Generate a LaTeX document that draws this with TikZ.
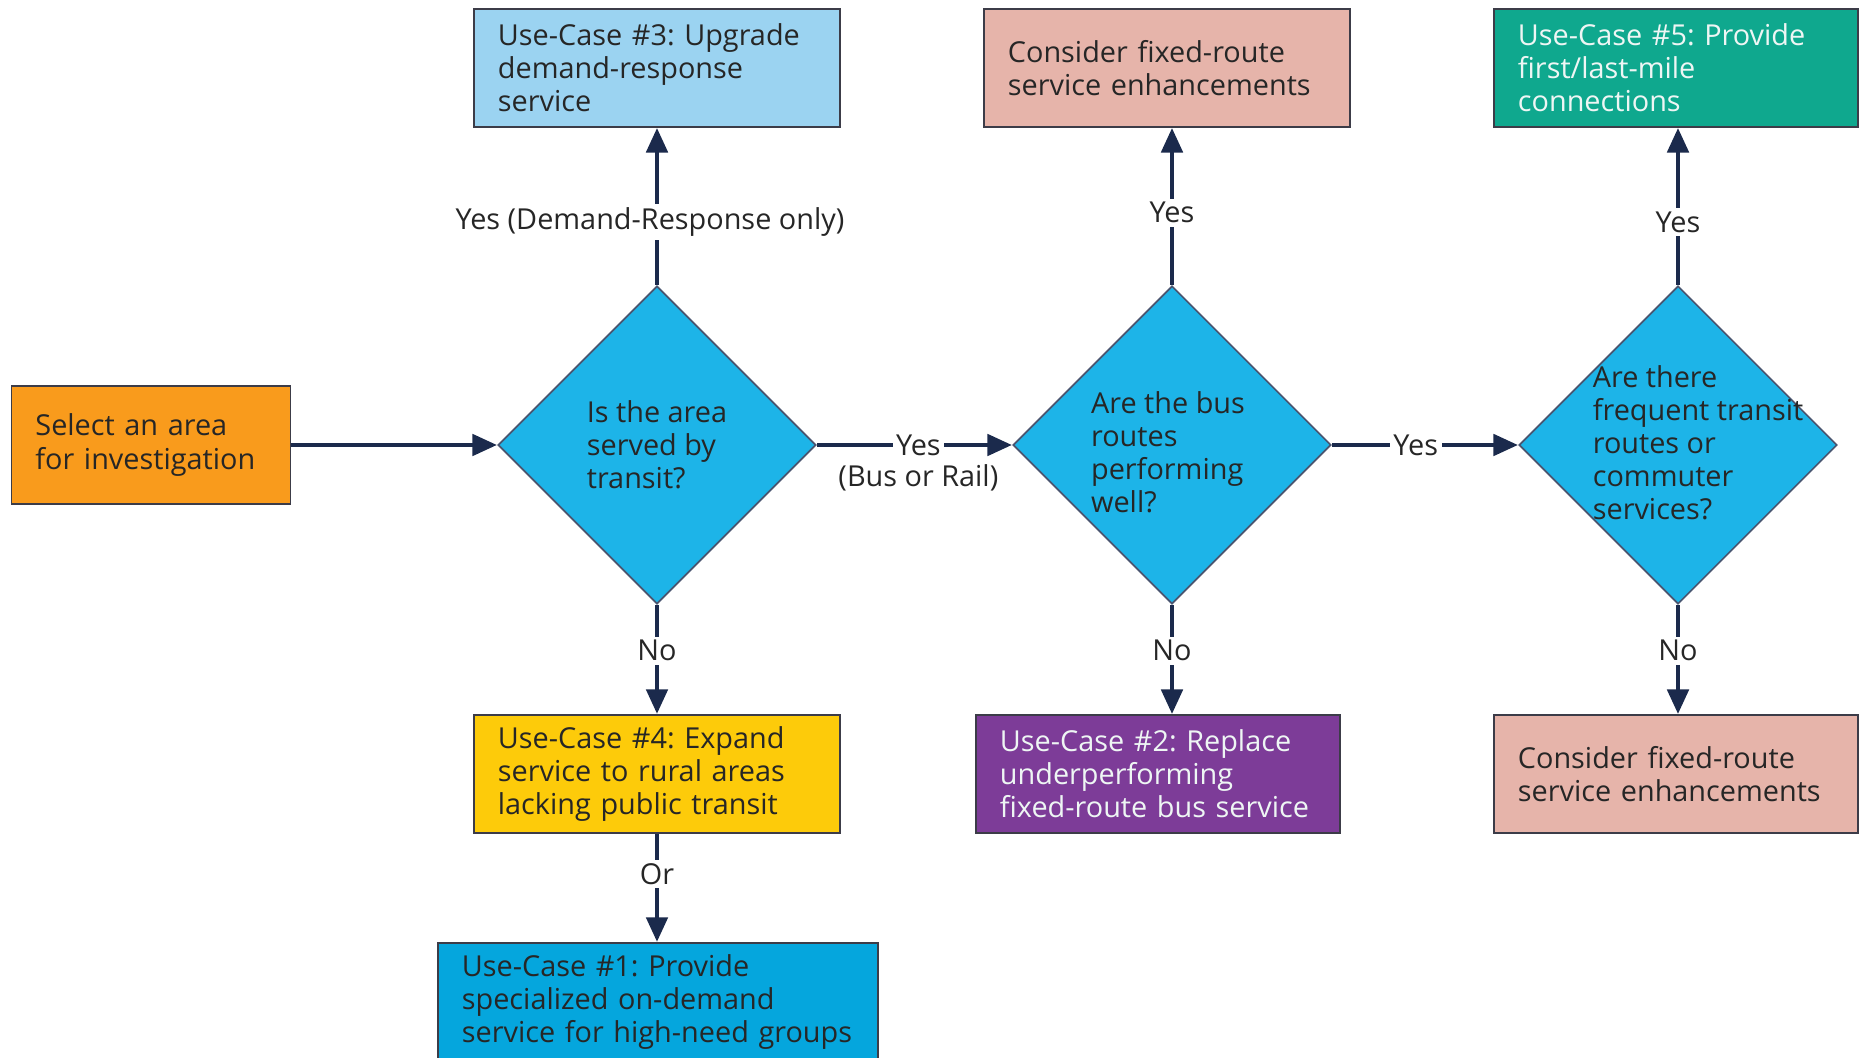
\documentclass[tikz,border=0pt]{standalone}
\usepackage{fontspec}
\setmainfont{Open Sans}
\usepackage{xcolor}
\usepackage{tikz}
\usetikzlibrary{arrows.meta,positioning,calc,shapes.geometric}
\frenchspacing

\definecolor{areaorange}{HTML}{F99B1C}
\definecolor{caselight}{HTML}{9BD3F1}
\definecolor{casepink}{HTML}{E6B4AA}
\definecolor{caseteal}{HTML}{0FA88E}
\definecolor{caseyellow}{HTML}{FDCB0A}
\definecolor{casepurple}{HTML}{7D3C98}
\definecolor{caseblue}{HTML}{05A6DD}
\definecolor{askblue}{HTML}{1DB4E8}
\definecolor{flownavy}{HTML}{1B2A4C}
\definecolor{edgegray}{HTML}{3C3C48}
\definecolor{inkdark}{HTML}{262626}
\definecolor{inklight}{HTML}{EEF6F4}

\begin{document}
\begin{tikzpicture}[x=0.01cm, y=-0.01cm,
    font=\fontsize{8.2}{9.4}\selectfont,
    casebox/.style={draw=edgegray, line width=0.5pt, rectangle, minimum height=1.18cm,
        inner xsep=0.24cm, text width=#1, align=left, text=inkdark},
    ask/.style={diamond, draw=flownavy!80, line width=0.5pt, fill=askblue,
        minimum width=3.18cm, minimum height=3.18cm, inner sep=0pt},
    asktext/.style={align=left, text=inkdark, inner sep=0pt},
    flow/.style={draw=flownavy, line width=1.3pt, -{Triangle[length=7pt,width=6pt]}},
    lbl/.style={fill=white, inner sep=1pt, text=inkdark}]

    \useasboundingbox (0,0) rectangle (1860,1058);

    % start
    \node[casebox=2.31cm, fill=areaorange] (area) at (151,445) {Select an area\\for investigation};

    % decisions
    \node[ask] (served) at (657,445) {};
    \node[asktext] (servedq) at (served.center) {Is the area\\served by\\transit?};
    \node[ask] (perform) at (1172,445) {};
    \node[asktext] (performq) at ($(perform.center)+(-4,7)$) {Are the bus\\routes\\performing\\well?};
    \node[ask] (frequent) at (1678,445) {};
    \node[asktext] (frequentq) at ($(frequent.center)+(20,-2)$) {Are there\\frequent transit\\routes or\\commuter\\services?};

    % top row
    \node[casebox=3.18cm, fill=caselight] (upgrade) at (657,68) {Use-Case \#3: Upgrade\\demand-response\\service};
    \node[casebox=3.18cm, fill=casepink] (enhanceA) at (1167,68) {Consider fixed-route\\service enhancements};
    \node[casebox=3.16cm, fill=caseteal, text=inklight] (lastmile) at (1676,68) {Use-Case \#5: Provide\\first/last-mile\\connections};

    % bottom rows
    \node[casebox=3.18cm, fill=caseyellow] (rural) at (657,774) {Use-Case \#4: Expand\\service to rural areas\\lacking public transit};
    \node[casebox=3.16cm, fill=casepurple, text=inklight] (replace) at (1158,774) {Use-Case \#2: Replace\\underperforming\\fixed-route bus service};
    \node[casebox=3.16cm, fill=casepink] (enhanceB) at (1676,774) {Consider fixed-route\\service enhancements};
    \node[casebox=3.92cm, fill=caseblue] (special) at (658,1002) {Use-Case \#1: Provide\\specialized on-demand\\service for high-need groups};

    % connectors
    \draw[flow] (area) -- (served);
    \draw[flow] (served) -- node[lbl, pos=0.52] (yesbus) {Yes} (perform);
    \node[inner sep=1pt, text=inkdark] (busrail) at ($(yesbus)+(0,33)$) {(Bus or Rail)};
    \draw[flow] (perform) -- node[lbl, pos=0.45] (yesfreq) {Yes} (frequent);

    \draw[flow] (served.north) -- node[lbl, pos=0.4, xshift=-0.07cm] (yesdr) {Yes (Demand-Response only)} (served.north |- upgrade.south);
    \draw[flow] (perform.north) -- node[lbl, pos=0.46] (yesfix) {Yes} (perform.north |- enhanceA.south);
    \draw[flow] (frequent.north) -- node[lbl, pos=0.4] (yesmile) {Yes} (frequent.north |- lastmile.south);

    \draw[flow] (served.south) -- node[lbl, pos=0.42] (nosrv) {No} (served.south |- rural.north);
    \draw[flow] (perform.south) -- node[lbl, pos=0.42] (noperf) {No} (perform.south |- replace.north);
    \draw[flow] (frequent.south) -- node[lbl, pos=0.42] (nofreq) {No} (frequent.south |- enhanceB.north);
    \draw[flow] (rural.south) -- node[lbl, pos=0.37] (orspec) {Or} (rural.south |- special.north);
\end{tikzpicture}
\end{document}
